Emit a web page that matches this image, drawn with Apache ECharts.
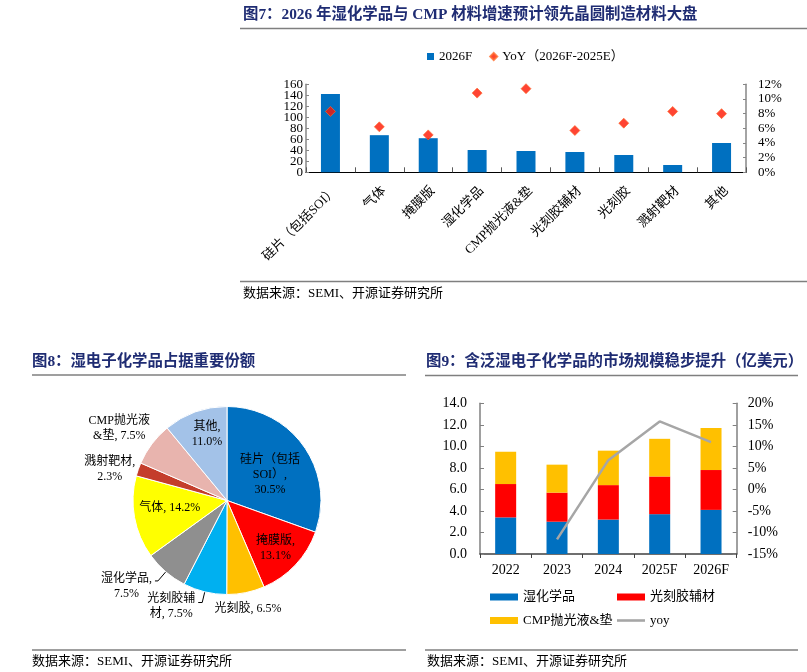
<!DOCTYPE html>
<html>
<head>
<meta charset="utf-8">
<script src="https://cdn.jsdelivr.net/npm/echarts@6/dist/echarts.min.js"></script>
<style>
html,body{margin:0;padding:0;background:#fff;}
#c{width:807px;height:672px;}
</style>
</head>
<body>
<div id="c"></div>
<script>
// ---- Figure 7 data ----
const fig7Categories = ['硅片（包括SOI）','气体','掩膜版','湿化学品','CMP抛光液&垫','光刻胶辅材','光刻胶','溅射靶材','其他'];
const fig7Values2026F = [142.5, 67.5, 62, 40.5, 38.7, 36.9, 31.5, 13.3, 53.3];
const fig7YoY = [8.3, 6.2, 5.1, 10.8, 11.4, 5.7, 6.7, 8.3, 8.0];

// ---- Figure 8 data ----
const pieNames = ['硅片（包括SOI）','掩膜版','光刻胶','光刻胶辅材','湿化学品','气体','溅射靶材','CMP抛光液&垫','其他'];
const pieValues = [30.5, 13.1, 6.5, 7.5, 7.5, 14.2, 2.3, 7.5, 11.0];
const pieLabelTemplates = ['硅片（包括\nSOI）,\n{v}%','掩膜版,\n{v}%','光刻胶, {v}%','光刻胶辅\n材, {v}%','湿化学品,\n{v}%','气体, {v}%','溅射靶材,\n{v}%','CMP抛光液\n&垫, {v}%','其他,\n{v}%'];

// ---- Figure 9 data ----
const fig9Years = ['2022','2023','2024','2025F','2026F'];
const fig9Wet = [3.4, 3.0, 3.2, 3.7, 4.1];
const fig9Resist = [3.1, 2.7, 3.2, 3.5, 3.7];
const fig9CMP = [3.0, 2.6, 3.2, 3.5, 3.9];
const fig9YoY = [null, -11.6, 6.8, 15.8, 11.0];

// ---- styles ----
const FONT = "'Liberation Serif','Noto Sans CJK SC',serif";
const TITLE_COLOR = '#1F2C73';
const pieColors = ['#0070C0','#FF0000','#FFC000','#00B0F0','#8F8F8F','#FFFF00','#C43D2B','#E8B4AE','#A3C2E8'];
const pieLabelCfg = [
  {pos:'inside', dx:2, dy:3},
  {pos:'inside', dx:12, dy:14},
  {pos:'outside', line:false, l1:4, l2:0, dx:-35, dy:12},
  {pos:'outside', line:true, l1:11, l2:4, dx:0, dy:4},
  {pos:'outside', line:true, l1:12, l2:3, dx:0, dy:5},
  {pos:'inside', dx:-8, dy:-2},
  {pos:'outside', line:false, l1:0, l2:0, dx:0, dy:0},
  {pos:'outside', line:false, l1:0, l2:0, dx:1, dy:-16},
  {pos:'inside', dx:-3, dy:-19}
];
const LINE_ICON = 'path://M0,0M0,7M0,2.2H28V4.8H0Z';

const chart = echarts.init(document.getElementById('c'), null, {renderer:'canvas'});

const hline = (x1, x2, y) => ({type:'line', shape:{x1:x1, y1:y, x2:x2, y2:y}, style:{stroke:'#7F7F7F', lineWidth:1.5}, silent:true});

const titleStyle = {fontSize:15.4, fontWeight:'bold', color:TITLE_COLOR, fontFamily:FONT};
const footStyle = {fontSize:13, fontWeight:'normal', color:'#000', fontFamily:FONT};

const option = {
  animation:false,
  textStyle:{fontFamily:FONT, color:'#000'},
  title:[
    {text:'图7：2026 年湿化学品与 CMP 材料增速预计领先晶圆制造材料大盘', left:243, top:7, padding:0, textStyle:titleStyle},
    {text:'图8：湿电子化学品占据重要份额', left:32, top:354, padding:0, textStyle:titleStyle},
    {text:'图9：含泛湿电子化学品的市场规模稳步提升（亿美元）', left:426, top:354, padding:0, textStyle:titleStyle},
    {text:'数据来源：SEMI、开源证券研究所', left:243, top:287, padding:0, textStyle:footStyle},
    {text:'数据来源：SEMI、开源证券研究所', left:32, top:655, padding:0, textStyle:footStyle},
    {text:'数据来源：SEMI、开源证券研究所', left:427, top:655, padding:0, textStyle:footStyle}
  ],
  graphic:[
    hline(240, 807, 28.5),
    hline(240, 807, 281.5),
    hline(32, 406, 375),
    hline(32, 406, 650),
    hline(425, 798, 375.5),
    hline(425, 798, 650)
  ],
  legend:[
    {
      left:427, top:50, itemWidth:7, itemHeight:7, itemGap:17, padding:0,
      textStyle:{fontSize:13, fontFamily:FONT, color:'#000'},
      data:[{name:'2026F', icon:'rect'}, {name:'YoY（2026F-2025E）', icon:'diamond'}]
    },
    {
      orient:'vertical', left:490, top:590, itemWidth:28, itemHeight:7, itemGap:9.5, padding:0,
      textStyle:{fontSize:13, lineHeight:14, fontFamily:FONT, color:'#000'},
      data:[{name:'湿化学品', icon:'rect'}, {name:'CMP抛光液&垫', icon:'rect'}]
    },
    {
      orient:'vertical', left:617, top:590, itemWidth:28, itemHeight:7, itemGap:9.5, padding:0,
      textStyle:{fontSize:13, lineHeight:14, fontFamily:FONT, color:'#000'},
      data:[{name:'光刻胶辅材', icon:'rect'}, {name:'yoy', icon:LINE_ICON, itemStyle:{color:'#A6A6A6'}}]
    }
  ],
  grid:[
    {left:306, top:84.3, width:440, height:88, containLabel:false},
    {left:480, top:403.3, width:256.7, height:150.7, containLabel:false}
  ],
  xAxis:[
    {
      type:'category', gridIndex:0, data:fig7Categories,
      axisLine:{lineStyle:{color:'#000', width:1}},
      axisTick:{show:true, inside:true, length:5, lineStyle:{color:'#595959'}},
      axisLabel:{interval:0, rotate:45, fontSize:13, margin:12, color:'#000', align:'right', verticalAlign:'top'}
    },
    {
      type:'category', gridIndex:1, data:fig9Years,
      axisLine:{lineStyle:{color:'#404040', width:1.5}},
      axisTick:{show:true, length:4, lineStyle:{color:'#404040'}},
      axisLabel:{fontSize:14, margin:9, color:'#000'}
    }
  ],
  yAxis:[
    {
      // left axis of fig 7: draws line, ticks and the labels 0,40,80,120,160
      type:'value', gridIndex:0, position:'left', min:0, max:160, interval:20,
      axisLine:{show:true, lineStyle:{color:'#868686', width:1.5}},
      axisTick:{show:true, inside:true, length:3, lineStyle:{color:'#868686'}},
      splitLine:{show:false},
      axisLabel:{fontSize:13, margin:3, color:'#000', showMinLabel:true, showMaxLabel:true,
        formatter:(v)=> (v % 40 === 0 ? String(v) : '')}
    },
    {
      type:'value', gridIndex:0, position:'right', min:0, max:12, interval:2,
      axisLine:{show:true, lineStyle:{color:'#868686', width:1.5}},
      axisTick:{show:true, inside:true, length:3, lineStyle:{color:'#868686'}},
      splitLine:{show:false},
      axisLabel:{fontSize:13, margin:12, color:'#000', formatter:'{value}%', showMinLabel:true, showMaxLabel:true}
    },
    {
      type:'value', gridIndex:1, position:'left', min:0, max:14, interval:2,
      axisLine:{show:true, lineStyle:{color:'#808080', width:1.5}},
      axisTick:{show:true, inside:true, length:4, lineStyle:{color:'#808080'}},
      splitLine:{show:false},
      axisLabel:{fontSize:14, margin:13, color:'#000', formatter:(v)=>v.toFixed(1)}
    },
    {
      type:'value', gridIndex:1, position:'right', min:-15, max:20, interval:5,
      axisLine:{show:true, lineStyle:{color:'#808080', width:1.5}},
      axisTick:{show:true, inside:true, length:4, lineStyle:{color:'#808080'}},
      splitLine:{show:false},
      axisLabel:{fontSize:14, margin:11, color:'#000', formatter:'{value}%'}
    },
    {
      // same scale as the fig 7 left axis: carries the labels 20,60,100,140
      type:'value', gridIndex:0, position:'left', offset:0, min:0, max:160, interval:20,
      axisLine:{show:false}, axisTick:{show:false}, splitLine:{show:false},
      axisLabel:{fontSize:13, margin:3, color:'#000', showMinLabel:true, showMaxLabel:true,
        formatter:(v)=> (v % 40 === 20 ? String(v) : '')}
    }
  ],
  series:[
    {
      name:'2026F', type:'bar', xAxisIndex:0, yAxisIndex:0, data:fig7Values2026F,
      barWidth:19, itemStyle:{color:'#0070C0'}
    },
    {
      name:'YoY（2026F-2025E）', type:'scatter', xAxisIndex:0, yAxisIndex:1, data:fig7YoY,
      symbol:'diamond', symbolSize:10, itemStyle:{color:'#FF1500', borderColor:'#FF6A2A', borderWidth:0.8}
    },
    {
      name:'fig8', type:'pie', center:[227, 500.5], radius:94, startAngle:90, clockwise:true,
      avoidLabelOverlap:false, legendHoverLink:false,
      itemStyle:{borderColor:'#fff', borderWidth:1},
      label:{
        fontSize:12, color:'#000', distanceToLabelLine:3,
        rich:{c:{align:'center', fontSize:12, lineHeight:15, color:'#000', fontFamily:FONT}}
      },
      labelLine:{lineStyle:{color:'#000', width:1}},
      labelLayout:(p)=>({dx:pieLabelCfg[p.dataIndex].dx, dy:pieLabelCfg[p.dataIndex].dy}),
      data:pieNames.map((n, i)=>{
        const cfg = pieLabelCfg[i];
        const txt = pieLabelTemplates[i].replace('{v}', pieValues[i].toFixed(1));
        return {
          name:n, value:pieValues[i],
          itemStyle:{color:pieColors[i]},
          label:{position:cfg.pos, formatter:txt.split('\n').map(l=>'{c|'+l+'}').join('\n')},
          labelLine:{show:!!cfg.line, length:cfg.l1 || 0, length2:cfg.l2 || 0}
        };
      })
    },
    {
      name:'湿化学品', type:'bar', stack:'m', xAxisIndex:1, yAxisIndex:2, data:fig9Wet,
      barWidth:21, itemStyle:{color:'#0070C0'}
    },
    {
      name:'光刻胶辅材', type:'bar', stack:'m', xAxisIndex:1, yAxisIndex:2, data:fig9Resist,
      barWidth:21, itemStyle:{color:'#FF0000'}
    },
    {
      name:'CMP抛光液&垫', type:'bar', stack:'m', xAxisIndex:1, yAxisIndex:2, data:fig9CMP,
      barWidth:21, itemStyle:{color:'#FFC000'}
    },
    {
      name:'yoy', type:'line', xAxisIndex:1, yAxisIndex:3, data:fig9YoY,
      symbol:'none', showSymbol:false, connectNulls:false,
      lineStyle:{color:'#A6A6A6', width:2.5}, itemStyle:{color:'#A6A6A6'}
    }
  ]
};
chart.setOption(option);
</script>
</body>
</html>
